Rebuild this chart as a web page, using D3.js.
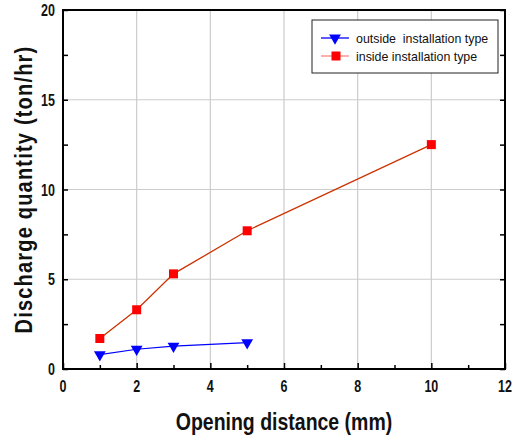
<!DOCTYPE html>
<html>
<head>
<meta charset="utf-8">
<script src="https://cdn.jsdelivr.net/npm/d3@7"></script>
<style>
body { margin: 0; background: #fff; }
text { font-family: "Liberation Sans", Arial, sans-serif; }
</style>
</head>
<body>
<div id="chart"></div>
<script>
// data
const outsideX = [1, 2, 3, 5];
const outsideY = [0.8, 1.1, 1.27, 1.47];
const insideX = [1, 2, 3, 5, 10];
const insideY = [1.7, 3.3, 5.3, 7.7, 12.5];
const xTicks = [0, 2, 4, 6, 8, 10, 12];
const yTicks = [0, 5, 10, 15, 20];
const legendNames = ["outside  installation type", "inside installation type"];

const W = 513, H = 439;
const m = {left: 63, top: 10, right: 8, bottom: 70};

const svg = d3.select("#chart").append("svg")
    .attr("width", W).attr("height", H);

var x = d3.scaleLinear().domain([0, 12]).range([m.left, W - m.right]);
var y = d3.scaleLinear().domain([0, 20]).range([H - m.bottom, m.top]);

// grid
svg.append("g").selectAll("line.gx")
    .data(xTicks.slice(1, -1)).enter().append("line")
    .attr("x1", d => x(d)).attr("x2", d => x(d))
    .attr("y1", y(0)).attr("y2", y(20))
    .attr("stroke", "#cccccc").attr("stroke-width", 1.2);
svg.append("g").selectAll("line.gy")
    .data(yTicks.slice(1, -1)).enter().append("line")
    .attr("y1", d => y(d)).attr("y2", d => y(d))
    .attr("x1", x(0)).attr("x2", x(12))
    .attr("stroke", "#cccccc").attr("stroke-width", 1.2);

// axes (ticks inward)
const xMinor = d3.range(0, 13, 1);
const yMinor = d3.range(0, 20.1, 2.5);

svg.append("g")
    .attr("transform", `translate(0,${y(0)})`)
    .call(d3.axisBottom(x).tickValues(xMinor).tickSize(0).tickFormat(""))
    .call(g => g.select(".domain").remove())
    .call(g => g.selectAll(".tick line").attr("y2", d => d % 2 == 0 ? -6 : -4)
        .attr("stroke", "#000").attr("stroke-width", 1.5));

svg.append("g")
    .attr("transform", `translate(${x(0)},0)`)
    .call(d3.axisLeft(y).tickValues(yMinor).tickSize(0).tickFormat(""))
    .call(g => g.select(".domain").remove())
    .call(g => g.selectAll(".tick line").attr("x2", 5)
        .attr("stroke", "#000").attr("stroke-width", 1.5));

svg.append("g")
    .attr("transform", `translate(${x(12)},0)`)
    .call(d3.axisRight(y).tickValues(yMinor).tickSize(0).tickFormat(""))
    .call(g => g.select(".domain").remove())
    .call(g => g.selectAll(".tick line").attr("x2", -5)
        .attr("stroke", "#000").attr("stroke-width", 1.5));

// tick labels, a bit tall and narrow like the original
svg.append("g").selectAll("text")
    .data(xTicks).enter().append("text")
    .attr("transform", d => `translate(${x(d)},${y(0) + 23}) scale(1,1.25)`)
    .attr("text-anchor", "middle").attr("font-size", 12.5).attr("font-weight", "bold")
    .attr("fill", "#111").text(d => d);
svg.append("g").selectAll("text")
    .data(yTicks).enter().append("text")
    .attr("transform", d => `translate(${x(0) - 8},${y(d) + 6}) scale(1,1.25)`)
    .attr("text-anchor", "end").attr("font-size", 12.5).attr("font-weight", "bold")
    .attr("fill", "#111").text(d => d);

// frame
svg.append("rect")
    .attr("x", x(0)).attr("y", y(20))
    .attr("width", x(12) - x(0)).attr("height", y(0) - y(20))
    .attr("fill", "none").attr("stroke", "#000").attr("stroke-width", 2);

// series
var line = d3.line().x(d => x(d[0])).y(d => y(d[1]));
const tri = d3.symbol().type(d3.symbolTriangle).size(60);

svg.append("path")
    .attr("d", line(d3.zip(insideX, insideY)))
    .attr("fill", "none").attr("stroke", "#cc3300").attr("stroke-width", 1.3);
svg.append("g").selectAll("rect")
    .data(d3.zip(insideX, insideY)).enter().append("rect")
    .attr("x", d => x(d[0]) - 4.5).attr("y", d => y(d[1]) - 4.5)
    .attr("width", 9).attr("height", 9).attr("fill", "#ff0000");

svg.append("path")
    .attr("d", line(d3.zip(outsideX, outsideY)))
    .attr("fill", "none").attr("stroke", "#0000ff").attr("stroke-width", 1.2);
svg.append("g").selectAll("path.t")
    .data(d3.zip(outsideX, outsideY)).enter().append("path")
    .attr("d", tri)
    .attr("transform", d => `translate(${x(d[0])},${y(d[1])}) rotate(180)`)
    .attr("fill", "#0000ff");

// legend
const lg = svg.append("g").attr("transform", "translate(312,20)");
lg.append("rect").attr("width", 186).attr("height", 53)
    .attr("fill", "#fff").attr("stroke", "#222").attr("stroke-width", 1);
const cols = ["#0000ff", "#ff8080"];
legendNames.forEach((nm, i) => {
    var ly = 18 + i * 18;
    lg.append("line").attr("x1", 9).attr("x2", 37).attr("y1", ly).attr("y2", ly)
        .attr("stroke", cols[i]).attr("stroke-width", 1.3);
    if (i == 0) {
        lg.append("path").attr("d", tri)
            .attr("transform", `translate(23,${ly}) rotate(180)`).attr("fill", "#0000ff");
    } else {
        lg.append("rect").attr("x", 19.5).attr("y", ly - 4.5)
            .attr("width", 9).attr("height", 9).attr("fill", "#ff0000");
    }
    lg.append("text")
        .attr("transform", `translate(44,${ly + 4.5}) scale(1,1.1)`)
        .attr("font-size", 12.4).attr("fill", "#111")
        .style("white-space", "pre").text(nm);
});

// axis titles
svg.append("text")
    .attr("transform", `translate(${(x(0) + x(12)) / 2},430) scale(1,1.2)`)
    .attr("text-anchor", "middle").attr("font-size", 19.5).attr("font-weight", "bold")
    .attr("fill", "#111").text("Opening distance (mm)");
svg.append("text")
    .attr("transform", `translate(32,${(y(0) + y(20)) / 2}) rotate(-90) scale(1,1.2)`)
    .attr("text-anchor", "middle").attr("font-size", 20).attr("font-weight", "bold")
    .attr("letter-spacing", 1.2)
    .attr("fill", "#111").text("Discharge quantity (ton/hr)");
</script>
</body>
</html>
